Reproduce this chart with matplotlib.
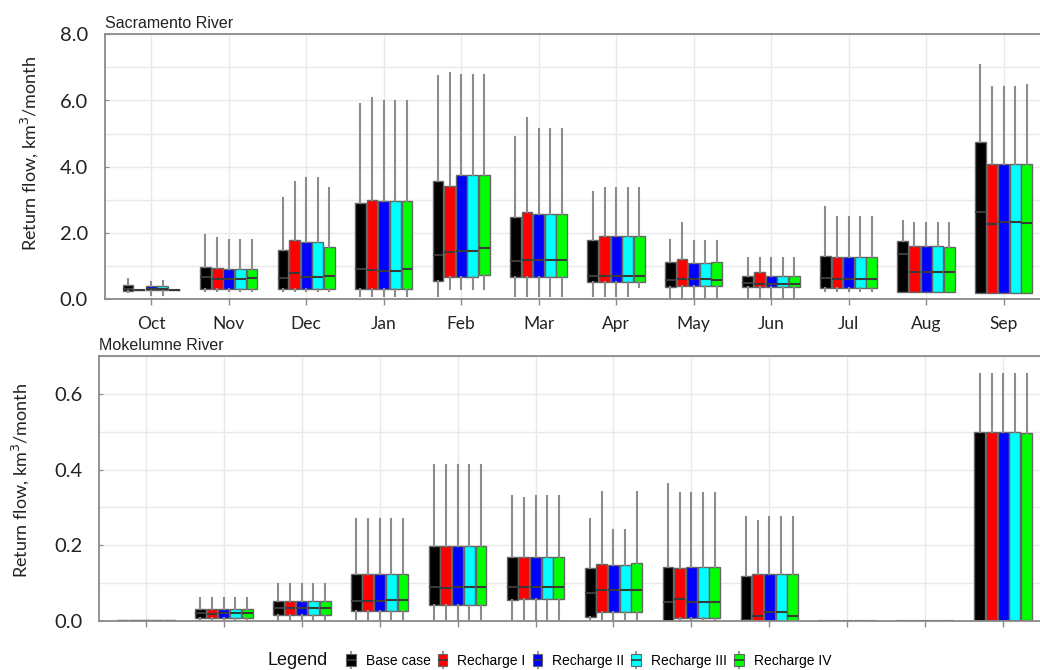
import matplotlib
matplotlib.use("Agg")
import matplotlib.pyplot as plt
from matplotlib.lines import Line2D
from matplotlib.patches import Patch
from matplotlib.legend_handler import HandlerTuple
from matplotlib.ticker import MultipleLocator, FormatStrFormatter

MONTHS = ["Oct", "Nov", "Dec", "Jan", "Feb", "Mar", "Apr", "May", "Jun", "Jul", "Aug", "Sep"]
SCENARIOS = ["Base case", "Recharge I", "Recharge II", "Recharge III", "Recharge IV"]
COLORS = ["#000000", "#ff0000", "#0000ff", "#00ffff", "#00ff00"]

# Sacramento River, km3/month: one row per scenario, Oct..Sep
SAC_HI = [
    [0.62, 1.93, 3.06, 5.88, 6.75, 4.89, 3.24, 1.79, 1.24, 2.78, 2.36, 7.07],
    [0.30, 1.84, 3.53, 6.08, 6.82, 5.48, 3.35, 2.30, 1.24, 2.48, 2.30, 6.42],
    [0.52, 1.79, 3.66, 5.98, 6.77, 5.14, 3.35, 1.77, 1.24, 2.48, 2.30, 6.42],
    [0.57, 1.79, 3.66, 5.98, 6.77, 5.14, 3.35, 1.77, 1.24, 2.48, 2.30, 6.42],
    [0.30, 1.79, 3.36, 5.98, 6.77, 5.14, 3.35, 1.77, 1.24, 2.48, 2.30, 6.46],
]
SAC_Q3 = [
    [0.45, 0.99, 1.49, 2.92, 3.58, 2.48, 1.79, 1.13, 0.72, 1.32, 1.75, 4.76],
    [0.30, 0.95, 1.79, 3.00, 3.43, 2.65, 1.91, 1.21, 0.82, 1.27, 1.62, 4.10],
    [0.42, 0.91, 1.73, 2.96, 3.74, 2.57, 1.91, 1.11, 0.72, 1.27, 1.62, 4.08],
    [0.42, 0.91, 1.73, 2.96, 3.74, 2.57, 1.91, 1.11, 0.72, 1.27, 1.62, 4.08],
    [0.30, 0.92, 1.57, 2.96, 3.74, 2.57, 1.92, 1.13, 0.72, 1.27, 1.57, 4.08],
]
SAC_MED = [
    [0.33, 0.67, 0.65, 0.93, 1.35, 1.15, 0.72, 0.59, 0.49, 0.64, 1.37, 2.64],
    [0.29, 0.62, 0.79, 0.89, 1.42, 1.19, 0.70, 0.62, 0.47, 0.61, 0.82, 2.27],
    [0.31, 0.63, 0.69, 0.87, 1.46, 1.19, 0.72, 0.62, 0.47, 0.63, 0.84, 2.33],
    [0.31, 0.63, 0.69, 0.87, 1.46, 1.19, 0.72, 0.62, 0.47, 0.61, 0.84, 2.33],
    [0.29, 0.66, 0.70, 0.91, 1.55, 1.19, 0.71, 0.60, 0.47, 0.61, 0.84, 2.31],
]
SAC_Q1 = [
    [0.27, 0.31, 0.32, 0.33, 0.57, 0.69, 0.54, 0.37, 0.39, 0.34, 0.22, 0.20],
    [0.28, 0.31, 0.32, 0.33, 0.69, 0.69, 0.54, 0.42, 0.39, 0.34, 0.22, 0.20],
    [0.29, 0.31, 0.32, 0.33, 0.69, 0.67, 0.54, 0.42, 0.39, 0.34, 0.22, 0.20],
    [0.29, 0.31, 0.32, 0.33, 0.69, 0.67, 0.54, 0.42, 0.39, 0.34, 0.22, 0.20],
    [0.28, 0.31, 0.32, 0.33, 0.74, 0.67, 0.54, 0.42, 0.39, 0.34, 0.22, 0.20],
]
SAC_LO = [
    [0.22, 0.25, 0.27, 0.10, 0.12, 0.12, 0.12, 0.00, 0.00, 0.25, 0.22, 0.20],
    [0.28, 0.25, 0.27, 0.10, 0.32, 0.12, 0.12, 0.00, 0.00, 0.25, 0.22, 0.20],
    [0.15, 0.25, 0.27, 0.10, 0.32, 0.12, 0.12, 0.00, 0.00, 0.25, 0.22, 0.20],
    [0.15, 0.25, 0.27, 0.10, 0.32, 0.12, 0.12, 0.00, 0.00, 0.25, 0.22, 0.20],
    [0.28, 0.25, 0.27, 0.10, 0.32, 0.12, 0.37, 0.00, 0.00, 0.25, 0.22, 0.20],
]

# Mokelumne River, km3/month
MOK_HI = [
    [0.003, 0.060, 0.098, 0.270, 0.411, 0.331, 0.270, 0.361, 0.276, 0.0, 0.0, 0.652],
    [0.003, 0.060, 0.098, 0.270, 0.411, 0.326, 0.341, 0.338, 0.263, 0.0, 0.0, 0.652],
    [0.003, 0.060, 0.098, 0.270, 0.411, 0.331, 0.240, 0.338, 0.274, 0.0, 0.0, 0.652],
    [0.003, 0.060, 0.098, 0.270, 0.411, 0.331, 0.240, 0.338, 0.274, 0.0, 0.0, 0.652],
    [0.003, 0.060, 0.098, 0.270, 0.411, 0.331, 0.341, 0.338, 0.274, 0.0, 0.0, 0.652],
]
MOK_Q3 = [
    [0.002, 0.031, 0.054, 0.125, 0.199, 0.170, 0.140, 0.143, 0.118, 0.0, 0.0, 0.498],
    [0.002, 0.031, 0.054, 0.125, 0.199, 0.168, 0.151, 0.141, 0.125, 0.0, 0.0, 0.498],
    [0.002, 0.031, 0.054, 0.125, 0.199, 0.168, 0.148, 0.143, 0.125, 0.0, 0.0, 0.498],
    [0.002, 0.031, 0.054, 0.125, 0.199, 0.168, 0.148, 0.143, 0.125, 0.0, 0.0, 0.498],
    [0.002, 0.031, 0.054, 0.125, 0.199, 0.168, 0.152, 0.143, 0.125, 0.0, 0.0, 0.497],
]
MOK_MED = [
    [0.001, 0.020, 0.035, 0.054, 0.089, 0.091, 0.073, 0.049, 0.002, 0.0, 0.0, 0.0],
    [0.001, 0.018, 0.034, 0.054, 0.086, 0.089, 0.082, 0.058, 0.014, 0.0, 0.0, 0.0],
    [0.001, 0.020, 0.034, 0.054, 0.089, 0.089, 0.082, 0.050, 0.023, 0.0, 0.0, 0.0],
    [0.001, 0.020, 0.035, 0.055, 0.090, 0.089, 0.082, 0.049, 0.023, 0.0, 0.0, 0.0],
    [0.001, 0.020, 0.034, 0.055, 0.089, 0.089, 0.082, 0.050, 0.014, 0.0, 0.0, 0.0],
]
MOK_Q1 = [
    [0.001, 0.009, 0.015, 0.027, 0.041, 0.055, 0.011, 0.000, 0.000, 0.0, 0.0, 0.0],
    [0.001, 0.009, 0.015, 0.027, 0.041, 0.059, 0.023, 0.008, 0.000, 0.0, 0.0, 0.0],
    [0.001, 0.009, 0.015, 0.027, 0.041, 0.059, 0.023, 0.008, 0.000, 0.0, 0.0, 0.0],
    [0.001, 0.009, 0.015, 0.027, 0.041, 0.059, 0.023, 0.008, 0.000, 0.0, 0.0, 0.0],
    [0.001, 0.009, 0.015, 0.027, 0.041, 0.059, 0.023, 0.008, 0.000, 0.0, 0.0, 0.0],
]
MOK_LO = [
    [0.0, 0.0, 0.0, 0.0, 0.003, 0.0, 0.0, 0.0, 0.0, 0.0, 0.0, 0.0],
    [0.0, 0.0, 0.0, 0.0, 0.003, 0.0, 0.0, 0.0, 0.0, 0.0, 0.0, 0.0],
    [0.0, 0.0, 0.0, 0.0, 0.003, 0.0, 0.0, 0.0, 0.0, 0.0, 0.0, 0.0],
    [0.0, 0.0, 0.0, 0.0, 0.003, 0.0, 0.0, 0.0, 0.0, 0.0, 0.0, 0.0],
    [0.0, 0.0, 0.0, 0.0, 0.003, 0.0, 0.0, 0.0, 0.0, 0.0, 0.0, 0.0],
]

TICK_FONT = "Lato"
TEXT_FONT = "Liberation Sans"
EDGE = "#666666"
WHISK = "#8c8c8c"
GRID = "#e9e9e9"


def draw_panel(ax, hi, q3, med, q1, lo, title, ylim, ymajor, yminor, label_xy):
    step, width = 0.15, 0.14
    for k, color in enumerate(COLORS):
        stats = [dict(whislo=lo[k][m], q1=q1[k][m], med=med[k][m], q3=q3[k][m],
                      whishi=hi[k][m]) for m in range(len(MONTHS))]
        pos = [m + (k - 2) * step for m in range(len(MONTHS))]
        ax.bxp(stats, positions=pos, widths=width, patch_artist=True,
               showfliers=False, showcaps=False, manage_ticks=False,
               boxprops=dict(facecolor=color, edgecolor=EDGE, linewidth=1.0),
               whiskerprops=dict(color=WHISK, linewidth=1.5),
               medianprops=dict(color="#3a3a3a", linewidth=1.5))
    ax.set_xlim(-0.6, 11.6)
    ax.set_ylim(*ylim)
    ax.set_xticks(range(len(MONTHS)))
    ax.yaxis.set_major_locator(MultipleLocator(ymajor))
    ax.yaxis.set_minor_locator(MultipleLocator(yminor))
    ax.yaxis.set_major_formatter(FormatStrFormatter("%.1f"))
    ax.grid(True, which="both", color=GRID, linewidth=1.0)
    ax.set_axisbelow(True)
    for s in ax.spines.values():
        s.set_color("#8a8a8a")
        s.set_linewidth(1.3)
    ax.tick_params(axis="x", length=4, color="#8a8a8a", width=1.0, pad=8)
    ax.tick_params(axis="y", which="major", length=3, direction="in",
                   color="#8a8a8a", pad=12)
    ax.tick_params(axis="y", which="minor", length=0)
    for lab in ax.get_yticklabels():
        lab.set_fontfamily(TICK_FONT)
        lab.set_fontsize(14.5)
        lab.set_color("#222222")
    ax.set_ylabel("Return flow, km$^3$/month", fontfamily=TICK_FONT, fontsize=13,
                  color="#222222")
    ax.yaxis.set_label_coords(*label_xy)
    ax.text(0.0, 1.012, title, transform=ax.transAxes, fontfamily=TEXT_FONT,
            fontsize=11.5, ha="left", va="bottom", color="#222222")


fig = plt.figure(figsize=(10.4, 6.7), dpi=100)
ax_top = fig.add_axes([0.1007, 0.553, 0.909, 0.396])
ax_bot = fig.add_axes([0.0952, 0.0731, 0.9144, 0.3956])

draw_panel(ax_top, SAC_HI, SAC_Q3, SAC_MED, SAC_Q1, SAC_LO, "Sacramento River",
           (0, 8.0), 2.0, 1.0, (-0.068, 0.55))
draw_panel(ax_bot, MOK_HI, MOK_Q3, MOK_MED, MOK_Q1, MOK_LO, "Mokelumne River",
           (0, 0.7), 0.2, 0.1, (-0.072, 0.53))

ax_top.set_xticklabels(MONTHS, fontfamily=TICK_FONT, fontsize=12.5, color="#222222")
ax_bot.set_xticklabels([])

# legend strip along the bottom edge
handles = []
for c in COLORS:
    handles.append((Line2D([], [], color=WHISK, marker="|", markersize=13, ls="none",
                           markeredgewidth=1.3),
                    Patch(facecolor=c, edgecolor=EDGE, linewidth=0.8),
                    Line2D([], [], color="#3a3a3a", marker="_", markersize=7, ls="none",
                           markeredgewidth=1.2)))
fig.legend(handles, SCENARIOS, ncol=5, loc="center", bbox_to_anchor=(0.566, 0.0135),
           frameon=False, handler_map={tuple: HandlerTuple(ndivide=1, pad=0)},
           handlelength=0.7, handleheight=0.9, handletextpad=0.7, columnspacing=0.52,
           prop={"family": TEXT_FONT, "size": 10})
fig.text(0.257, 0.0135, "Legend", fontfamily=TEXT_FONT, fontsize=13,
         ha="left", va="center", color="#111111")

fig.savefig("out.png", dpi=100)
